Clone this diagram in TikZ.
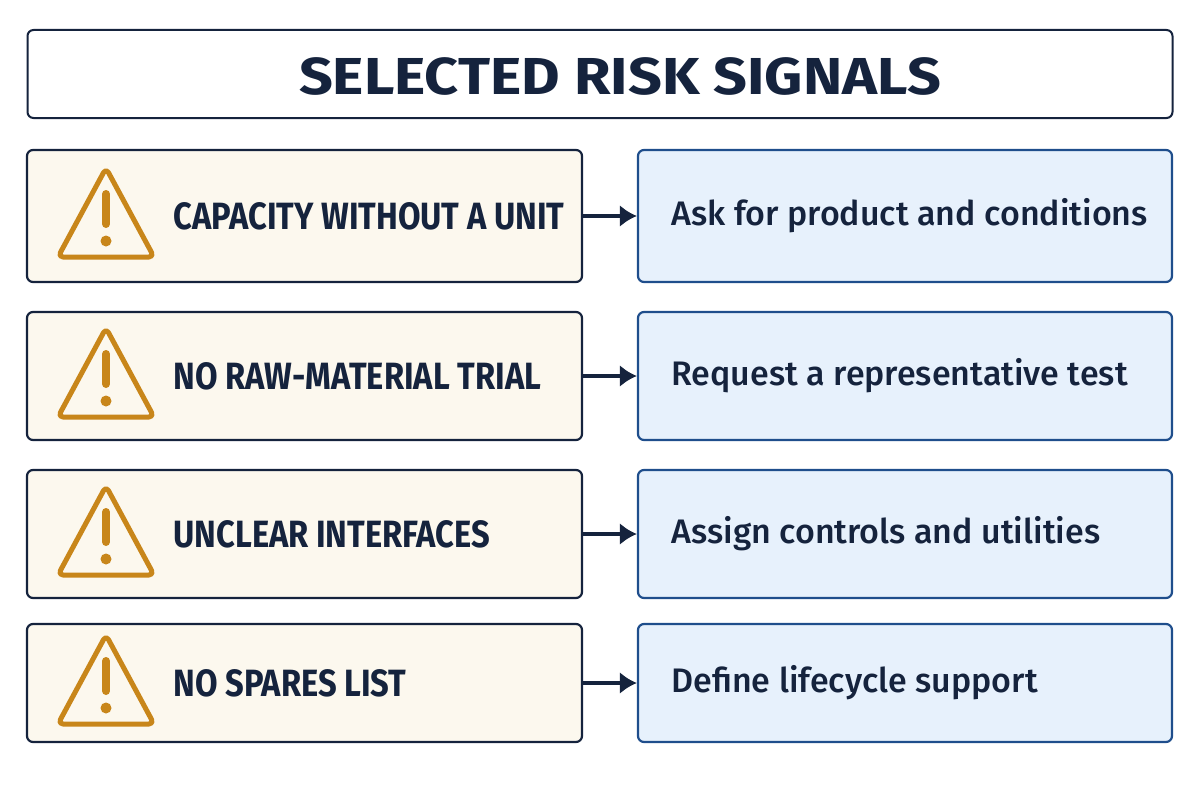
\documentclass[tikz,border=0pt]{standalone}
\usepackage{fontspec}
\setmainfont{Fira Sans}
\usepackage{graphicx}
\usetikzlibrary{arrows.meta}
\definecolor{navy}{HTML}{15233D}
\definecolor{warm}{HTML}{FCF8EE}
\definecolor{cool}{HTML}{E7F1FC}
\definecolor{blueb}{HTML}{1F4E8C}
\definecolor{amber}{HTML}{C8861A}
\begin{document}
\begin{tikzpicture}[x=1pt,y=-1pt,
  lbox/.style={draw=navy,line width=2.2pt,fill=warm,rounded corners=6pt},
  rbox/.style={draw=blueb,line width=2.2pt,fill=cool,rounded corners=6pt},
  ltxt/.style={anchor=west,text=navy,font=\fontsize{38}{40}\selectfont\bfseries},
  rtxt/.style={anchor=west,text=navy,font=\fontsize{34}{38}\selectfont\fontspec{Fira Sans Medium}},
  arr/.style={draw=navy,line width=3.5pt,-{Latex[length=17pt,width=22pt]}}]
\useasboundingbox (0,0) rectangle (1200,800);
\node[draw=navy,line width=2pt,fill=white,rounded corners=6pt,minimum width=1145pt,minimum height=88pt] (title) at (600,74) {};
\node[text=navy,font=\fontsize{52}{56}\selectfont\bfseries] (tt) at (620,76) {\scalebox{1.14}[1]{SELECTED RISK SIGNALS}};
\foreach \i/\y/\h/\lt/\rt in {1/216/132/CAPACITY WITHOUT A UNIT/Ask for product and conditions,
  2/376/128/NO RAW-MATERIAL TRIAL/Request a representative test,
  3/534/128/UNCLEAR INTERFACES/Assign controls and utilities,
  4/683/118/NO SPARES LIST/Define lifecycle support}{
  \node[lbox,minimum width=555pt,minimum height=\h pt] (L\i) at (304.5,\y) {};
  \node[rbox,minimum width=534pt,minimum height=\h pt] (R\i) at (905,\y) {};
  \draw[amber,line width=5pt,line join=round,rounded corners=5pt] (106,\y-48) -- (154,\y+41) -- (58,\y+41) -- cycle;
  \draw[amber,line width=8pt,line cap=round] (106,\y-22) -- (106,\y+8);
  \fill[amber] (106,\y+25) circle (5.5pt);
  \node[ltxt] (LT\i) at (170,\y) {\scalebox{0.86}[1]{\lt}};
  \node[rtxt] (RT\i) at (668,\y) {\scalebox{1.0}[1]{\rt}};
  \draw[arr] (L\i.east) -- (R\i.west);
}
\end{tikzpicture}
\end{document}
